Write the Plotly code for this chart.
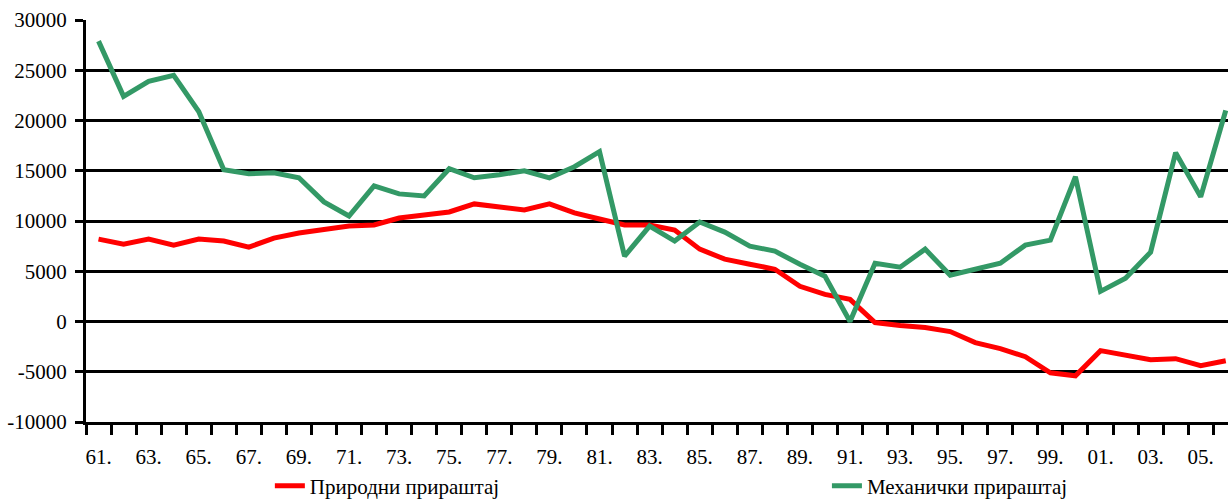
import plotly.graph_objects as go

years = list(range(1961, 2007))
tick_years = list(range(1961, 2007, 2))
tick_labels = [f"{y % 100:02d}." for y in tick_years]
y_ticks = list(range(-10000, 30001, 5000))
y_labels = [str(v) for v in y_ticks]

natural = [8200, 7700, 8200, 7600, 8200, 8000, 7400, 8300, 8800, 9200,
           9500, 9600, 10300, 10600, 10900, 11700, 11400, 11100, 11700, 10800,
           10200, 9600, 9600, 9100, 7200, 6200, 5700, 5200, 3500, 2700,
           2200, -100, -400, -600, -1000, -2100, -2700, -3500, -5100, -5400,
           -2900, -3300, -3800, -3700, -4400, -3900]

migration = [27900, 22400, 23900, 24500, 20900, 15100, 14700, 14800, 14300, 11900,
             10500, 13500, 12700, 12500, 15200, 14300, 14600, 15000, 14300, 15400,
             16900, 6500, 9500, 8000, 9900, 8900, 7500, 7000, 5700, 4500,
             0, 5800, 5400, 7200, 4600, 5200, 5800, 7600, 8100, 14400,
             3000, 4300, 6900, 16800, 12400, 21000]

series_names = ["Природни прираштај", "Механички прираштај"]
colors = ["#FF0000", "#339966"]
legend_ids = ["legend", "legend2"]

font = dict(family="Liberation Serif", size=21, color="black")

fig = go.Figure()
for name, vals, col, lg in zip(series_names, [natural, migration], colors, legend_ids):
    fig.add_trace(go.Scatter(x=years, y=vals, name=name, mode="lines",
                             line=dict(color=col, width=5), legend=lg))

leg_common = dict(orientation="h", xanchor="left", yref="container", y=0.026,
                  yanchor="middle", font=font, bgcolor="rgba(0,0,0,0)")

fig.update_layout(
    width=1228, height=499,
    margin=dict(l=86, r=0, t=20, b=77, autoexpand=False),
    paper_bgcolor="white", plot_bgcolor="white",
    font=font,
    showlegend=True,
    legend=dict(x=0.161, **leg_common),
    legend2=dict(x=0.6488, **leg_common),
    xaxis=dict(range=[1960.5, 2006.09], tickmode="array", tickvals=tick_years,
               ticktext=tick_labels, ticks="", showgrid=False, zeroline=False,
               showline=True, linecolor="black", linewidth=3,
               ticklabelstandoff=14, automargin=False,
               minor=dict(tick0=1960.5, dtick=1, ticks="outside", ticklen=10,
                          tickwidth=3, tickcolor="black", showgrid=False),
               tickfont=font),
    yaxis=dict(range=[-10000, 30000], tickmode="array",
               tickvals=y_ticks, ticktext=y_labels, automargin=False,
               ticks="outside", ticklen=8, tickwidth=3, tickcolor="black",
               ticklabelstandoff=4,
               showgrid=True, gridcolor="black", gridwidth=2.5,
               zeroline=True, zerolinecolor="black", zerolinewidth=2.5,
               showline=True, linecolor="black", linewidth=3,
               tickfont=font),
)

fig.write_html("out.html", config={"displayModeBar": False},
               post_script="document.body.style.margin='0';document.body.style.overflow='hidden';")
